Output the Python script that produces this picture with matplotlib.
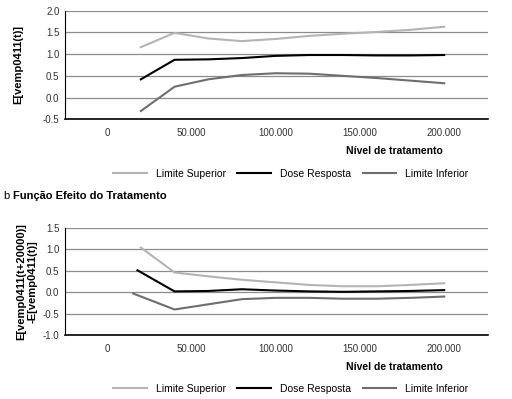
import matplotlib
matplotlib.use('Agg')
import matplotlib.pyplot as plt
from matplotlib.ticker import FuncFormatter

plt.rcParams['font.family'] = ['Liberation Sans', 'DejaVu Sans']

# painel a: dose resposta
x_a = [20000, 40000, 60000, 80000, 100000, 120000, 140000, 160000, 180000, 200000]
sup_a = [1.16, 1.49, 1.36, 1.30, 1.35, 1.42, 1.47, 1.51, 1.56, 1.63]
dose_a = [0.42, 0.87, 0.88, 0.91, 0.96, 0.98, 0.98, 0.97, 0.97, 0.98]
inf_a = [-0.31, 0.25, 0.42, 0.52, 0.56, 0.55, 0.50, 0.45, 0.39, 0.33]

# painel b: efeito do tratamento
x_sup_b = [20000, 40000, 60000, 80000, 100000, 120000, 140000, 160000, 180000, 200000]
x_dose_b = [18000, 40000, 60000, 80000, 100000, 120000, 140000, 160000, 180000, 200000]
x_inf_b = [15500, 40000, 60000, 80000, 100000, 120000, 140000, 160000, 180000, 200000]
sup_b = [1.04, 0.46, 0.37, 0.29, 0.23, 0.17, 0.14, 0.14, 0.17, 0.21]
dose_b = [0.51, 0.02, 0.03, 0.07, 0.04, 0.02, 0.01, 0.02, 0.03, 0.05]
inf_b = [-0.03, -0.40, -0.28, -0.16, -0.13, -0.13, -0.15, -0.15, -0.13, -0.10]

xticks = [0, 50000, 100000, 150000, 200000]
names = ['Limite Superior', 'Dose Resposta', 'Limite Inferior']
cores = ['#b4b4b4', '#000000', '#6e6e6e']

fig = plt.figure(figsize=(5.12, 3.99), dpi=100)
ax1 = fig.add_axes([65/512, 1-119.3/399, 423/512, 108.6/399])
ax2 = fig.add_axes([65/512, 1-335.3/399, 423/512, 107.6/399])

def milhar(v, p):
    return '{:,.0f}'.format(v).replace(',', '.')

def estilo(ax, ylim, yticks):
    ax.set_xlim(-25000, 226000)
    ax.set_ylim(*ylim)
    ax.set_yticks(yticks)
    ax.set_xticks(xticks)
    ax.xaxis.set_major_formatter(FuncFormatter(milhar))
    ax.yaxis.set_major_formatter(FuncFormatter(lambda v, p: '%.1f' % v))
    ax.grid(axis='y', color='#8c8c8c', linewidth=0.9)
    ax.set_axisbelow(True)
    for s in ['top', 'right']:
        ax.spines[s].set_visible(False)
    ax.spines['left'].set_color('black')
    ax.spines['bottom'].set_color('black')
    ax.spines['bottom'].set_linewidth(1.2)
    ax.tick_params(length=0, labelsize=7, colors='#333333')
    ax.tick_params(axis='x', pad=6)
    ax.tick_params(axis='y', pad=4)
    ax.set_xlabel('Nível de tratamento', fontsize=7.5, fontweight='bold')
    ax.xaxis.label.set_va('center')
    ax.xaxis.set_label_coords(0.778, -0.292)
    ax.legend(loc='center', bbox_to_anchor=(0.534, -0.50), ncol=3, frameon=False,
              fontsize=7.5, handlelength=3.2, columnspacing=1.1, handletextpad=0.9)

ax1.plot(x_a, sup_a, color=cores[0], lw=1.5, label=names[0])
ax1.plot(x_a, dose_a, color=cores[1], lw=1.5, label=names[1])
ax1.plot(x_a, inf_a, color=cores[2], lw=1.5, label=names[2])
estilo(ax1, (-0.5, 2.0), [-0.5, 0.0, 0.5, 1.0, 1.5, 2.0])
ax1.set_ylabel('E[vemp0411(t)]', fontsize=8, fontweight='bold')
ax1.yaxis.label.set_va('center')
ax1.yaxis.set_label_coords(-0.111, 0.5)

ax2.plot(x_sup_b, sup_b, color=cores[0], lw=1.5, label=names[0])
ax2.plot(x_dose_b, dose_b, color=cores[1], lw=1.5, label=names[1])
ax2.plot(x_inf_b, inf_b, color=cores[2], lw=1.5, label=names[2])
estilo(ax2, (-1.0, 1.5), [-1.0, -0.5, 0.0, 0.5, 1.0, 1.5])
ax2.set_ylabel('E[vemp0411(t+20000)]\n-E[vemp0411(t)]', fontsize=8, fontweight='bold',
               linespacing=1.1)
ax2.yaxis.label.set_va('center')
ax2.yaxis.set_label_coords(-0.09, 0.5)

fig.text(3/512, 1-196/399, 'b', fontsize=8, va='center')
fig.text(13/512, 1-196/399, 'Função Efeito do Tratamento', fontsize=8,
         fontweight='bold', va='center')

fig.savefig('out.png', dpi=100)
